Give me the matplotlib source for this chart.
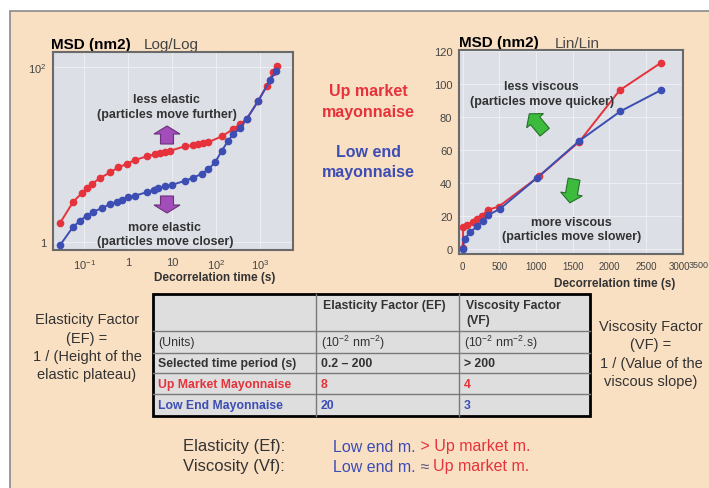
import matplotlib
matplotlib.use("Agg")
import matplotlib.pyplot as plt
from matplotlib.patches import Rectangle, FancyArrow
import matplotlib.transforms as mtransforms
import numpy as np

plt.rcParams['font.family'] = ['Liberation Sans', 'DejaVu Sans']
plt.rcParams['mathtext.fontset'] = 'custom'
plt.rcParams['mathtext.rm'] = 'Liberation Sans'
plt.rcParams['mathtext.it'] = 'Liberation Sans:italic'
plt.rcParams['mathtext.bf'] = 'Liberation Sans:bold'

# ---------------- data ----------------
log_t_red = [0.0285, 0.057, 0.0886, 0.115, 0.149, 0.231, 0.39, 0.60, 0.93, 1.44, 2.66, 4.1,
             5.3, 6.9, 9.0, 19.7, 30.5, 39.8, 51.5, 67, 135, 247, 351, 500, 915, 1420, 2000, 2400]
log_msd_red = [1.65, 2.89, 3.6, 4.1, 4.6, 5.35, 6.25, 7.1, 7.8, 8.65, 9.5, 10.1,
               10.4, 10.8, 11.0, 12.4, 12.8, 13.2, 13.5, 13.8, 16.1, 19.5, 22.3, 25.5, 41, 61, 87, 103]
log_t_blue = [0.0285, 0.0553, 0.081, 0.115, 0.163, 0.252, 0.39, 0.55, 0.72, 1.0, 1.44, 2.66, 3.8,
              4.9, 6.9, 9.8, 19.7, 30.5, 47, 67, 95, 135, 190, 247, 351, 500, 915, 1690, 2300]
log_msd_blue = [0.92, 1.47, 1.75, 2.0, 2.22, 2.43, 2.7, 2.89, 3.05, 3.24, 3.38, 3.7, 3.96,
                4.1, 4.33, 4.48, 5.0, 5.43, 6.0, 6.8, 8.1, 11.0, 14.4, 17.1, 19.9, 25.5, 41, 70, 90]

lin_t_red = [0, 8, 60, 145, 200, 260, 340, 490, 1040, 1590, 2140, 2700]
lin_msd_red = [1, 13.3, 14.7, 16.7, 18.5, 20.2, 23.8, 25.8, 44, 65, 96, 112.5]
lin_t_blue = [0, 30, 100, 200, 280, 350, 510, 1010, 1590, 2150, 2700]
lin_msd_blue = [0.5, 6.4, 10.4, 14, 17.3, 20.7, 24.5, 43, 65.5, 83.3, 96]

log_xticks = [0.1, 1, 10, 100, 1000]
log_xticklabels = [r'$10^{-1}$', '1', '10', r'$10^{2}$', r'$10^{3}$']
log_yticks = [1, 100]
log_yticklabels = ['1', r'$10^{2}$']
lin_xticks = [0, 500, 1000, 1500, 2000, 2500, 3000]
lin_yticks = [0, 20, 40, 60, 80, 100, 120]

table_header = ["", "Elasticity Factor (EF)", "Viscosity Factor\n(VF)"]
table_rows = [
    ["(Units)", r"(10$^{-2}$ nm$^{-2}$)", r"(10$^{-2}$ nm$^{-2}$.s)"],
    ["Selected time period (s)", "0.2 \u2013 200", "> 200"],
    ["Up Market Mayonnaise", "8", "4"],
    ["Low End Mayonnaise", "20", "3"],
]

RED = '#E5323B'
BLUE = '#3C4DB4'
TXT = '#333333'
PEACH = '#FAE0C3'
AXBG = '#DCDFE5'

W, H = 709, 489
fig = plt.figure(figsize=(W / 100, H / 100), dpi=100, facecolor='white')

# background overlay (pixel coords)
bg = fig.add_axes([0, 0, 1, 1], zorder=-5)
bg.set_xlim(0, W)
bg.set_ylim(H, 0)
bg.axis('off')
bg.add_patch(Rectangle((10, 12), 720, 500, facecolor=PEACH, edgecolor='#8a8a8a', lw=1.2))

def fr(x0, y0, x1, y1):
    return [x0 / W, 1 - y1 / H, (x1 - x0) / W, (y1 - y0) / H]

# ---------------- left log/log plot ----------------
ax1 = fig.add_axes(fr(53, 53, 293, 251))
ax1.set_facecolor(AXBG)
ax1.set_xscale('log')
ax1.set_yscale('log')
ax1.set_xlim(0.0197, 5620)
ax1.set_ylim(0.81, 148)
ax1.grid(True, color='#eceef2', lw=0.8)
ax1.plot(log_t_red, log_msd_red, '-o', color=RED, ms=4.5, lw=1.4, zorder=3)
ax1.plot(log_t_blue, log_msd_blue, '-o', color=BLUE, ms=4.5, lw=1.4, zorder=3)
ax1.set_xticks(log_xticks)
ax1.set_xticklabels(log_xticklabels)
ax1.set_yticks(log_yticks)
ax1.set_yticklabels(log_yticklabels)
ax1.minorticks_off()
ax1.tick_params(length=0, labelsize=8, labelcolor='#444444', pad=5)
for s in ax1.spines.values():
    s.set_color('#6a6a6a')
    s.set_linewidth(1.5)

# ---------------- right lin/lin plot ----------------
ax2 = fig.add_axes(fr(459.3, 50.7, 683, 255.3))
ax2.set_facecolor(AXBG)
ax2.set_xlim(-46, 3004)
ax2.set_ylim(-3, 120.5)
ax2.grid(True, color='#eceef2', lw=0.8)
ax2.plot(lin_t_red, lin_msd_red, '-o', color=RED, ms=4.5, lw=1.4, zorder=3)
ax2.plot(lin_t_blue, lin_msd_blue, '-o', color=BLUE, ms=4.5, lw=1.4, zorder=3)
ax2.set_xticks(lin_xticks)
ax2.set_yticks(lin_yticks)
ax2.tick_params(axis='y', length=0, labelsize=8, labelcolor='#444444', pad=5)
ax2.tick_params(axis='x', length=0, labelsize=7, labelcolor='#444444', pad=5)
for s in ax2.spines.values():
    s.set_color('#6a6a6a')
    s.set_linewidth(1.5)
last = ax2.get_xticklabels()[-1]
last.set_transform(last.get_transform() + mtransforms.Affine2D().translate(-3, 0))
bg.text(708.5, 265.5, '3500', fontsize=6.5, color='#444444', ha='right', va='center')

# titles and axis labels
bg.text(51, 45, 'MSD (nm2)', fontsize=11, fontweight='bold', color='black', va='center')
bg.text(144, 45, 'Log/Log', fontsize=11, color='#444444', va='center')
bg.text(459, 43.5, 'MSD (nm2)', fontsize=11, fontweight='bold', color='black', va='center')
bg.text(555, 43.5, 'Lin/Lin', fontsize=11, color='#4a4a4a', va='center')
bg.text(215, 278.5, 'Decorrelation time (s)', fontsize=8.5, fontweight='bold', color=TXT,
        ha='center', va='center')
bg.text(615, 283.5, 'Decorrelation time (s)', fontsize=8.5, fontweight='bold', color=TXT,
        ha='center', va='center')

# centre legend-like text
for txt, y, c in [('Up market', 91.7, RED), ('mayonnaise', 112.7, RED),
                  ('Low end', 152.7, BLUE), ('mayonnaise', 173, BLUE)]:
    bg.text(368, y, txt, fontsize=11.5, fontweight='bold', color=c, ha='center', va='center')

# ---------------- overlay for annotations ----------------
top = fig.add_axes([0, 0, 1, 1], zorder=10)
top.set_xlim(0, W)
top.set_ylim(H, 0)
top.axis('off')
top.patch.set_alpha(0)

for txt, x, y in [('less elastic', 166.7, 100), ('(particles move further)', 166.7, 115),
                  ('more elastic', 165, 228.3), ('(particles move closer)', 165, 242.3),
                  ('less viscous', 541.7, 87.3), ('(particles move quicker)', 541.7, 101.7),
                  ('more viscous', 571.7, 222.7), ('(particles move slower)', 571.7, 237.3)]:
    top.text(x, y, txt, fontsize=9, fontweight='bold', color=TXT, ha='center', va='center')

PURPLE = '#A34DBA'
top.add_patch(FancyArrow(167, 145, 0, -18, width=13, head_width=26, head_length=8,
                         length_includes_head=True, fc=PURPLE, ec='#6b2f7c', lw=0.8))
top.add_patch(FancyArrow(167, 197, 0, 17, width=13, head_width=26, head_length=8,
                         length_includes_head=True, fc=PURPLE, ec='#6b2f7c', lw=0.8))

GREEN = '#3DBB3D'
def green_arrow(cx, cy, ang, length=24):
    a = np.deg2rad(ang)
    dx, dy = np.cos(a) * length, -np.sin(a) * length
    top.add_patch(FancyArrow(cx - dx / 2, cy - dy / 2, dx, dy, width=12, head_width=22,
                             head_length=9, length_includes_head=True,
                             fc=GREEN, ec='#24702a', lw=0.8))
green_arrow(537, 124, 130)
green_arrow(572, 192, -100)

# ---------------- table ----------------
col_x = [153, 316, 459, 590]
row_y = [295, 331.7, 354.3, 374.3, 395, 416.7]
bg.add_patch(Rectangle((col_x[0], row_y[0]), col_x[-1] - col_x[0], row_y[-1] - row_y[0],
                       facecolor='#DEDEDE', edgecolor='none'))
for x in col_x[1:-1]:
    bg.plot([x, x], [row_y[0], row_y[-1]], color='#7a7a7a', lw=1)
for y in row_y[1:-1]:
    bg.plot([col_x[0], col_x[-1]], [y, y], color='#7a7a7a', lw=1)
bg.add_patch(Rectangle((col_x[0], row_y[0]), col_x[-1] - col_x[0], row_y[-1] - row_y[0],
                       facecolor='none', edgecolor='black', lw=2))

for j, h in enumerate(table_header):
    if h:
        bg.text(col_x[j] + 7, row_y[0] + 5, h, fontsize=8.8, fontweight='bold', color=TXT,
                ha='left', va='top', linespacing=1.3)
row_colors = [TXT, TXT, RED, BLUE]
for i, row in enumerate(table_rows):
    yc = (row_y[i + 1] + row_y[i + 2]) / 2
    for j, cell in enumerate(row):
        bg.text(col_x[j] + 5, yc, cell, fontsize=8.8,
                fontweight='normal' if i == 0 else 'bold',
                color=row_colors[i], ha='left', va='center')

# side texts
for k, line in enumerate(['Elasticity Factor', '(EF) =', '1 / (Height of the', 'elastic plateau)']):
    bg.text(87, 320 + k * 18.5, line, fontsize=10.5, color=TXT, ha='center', va='center')
for k, line in enumerate(['Viscosity Factor', '(VF) =', '1 / (Value of the', 'viscous slope)']):
    bg.text(651, 327 + k * 18.3, line, fontsize=10.5, color=TXT, ha='center', va='center')

# bottom summary
bg.text(183, 447, 'Elasticity (Ef):', fontsize=12, color=TXT, va='center')
bg.text(183, 467, 'Viscosity (Vf):', fontsize=12, color=TXT, va='center')
t1 = bg.text(333, 447, 'Low end m.', fontsize=11.5, color=BLUE, va='center')
bg.annotate(' > Up market m.', xy=(1, 0.5), xycoords=t1, fontsize=11.5, color=RED, va='center')
t2 = bg.text(333, 467, 'Low end m.', fontsize=11.5, color=BLUE, va='center')
t3 = bg.annotate(' \u2248 ', xy=(1, 0.5), xycoords=t2, fontsize=11.5, color='#555577', va='center')
bg.annotate('Up market m.', xy=(1, 0.5), xycoords=t3, fontsize=11.5, color=RED, va='center')

fig.savefig('out.png', dpi=100, facecolor='white')
